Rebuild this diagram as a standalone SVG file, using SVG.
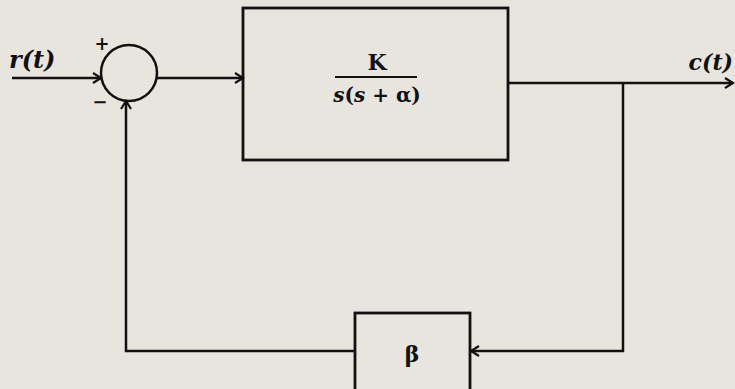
<svg xmlns="http://www.w3.org/2000/svg" width="735" height="389" viewBox="0 0 735 389">
<defs>
<style>
.ln{fill:none;stroke:#111;stroke-width:2.5}
.bx{fill:none;stroke:#111;stroke-width:2.8}
.lbl{font-family:"DejaVu Serif","Liberation Serif",serif;font-weight:bold;fill:#111}
</style>
<marker id="arr" markerUnits="userSpaceOnUse" markerWidth="14" markerHeight="14" refX="11" refY="6" orient="auto">
<path d="M3,1 L11,6 L3,11" fill="none" stroke="#111" stroke-width="2.2"/>
</marker>
</defs>
<rect x="0" y="0" width="735" height="389" fill="#e8e5de"/>
<g id="connectors">
<path class="ln" d="M12,78 H101" marker-end="url(#arr)"/>
<path class="ln" d="M157,78 H243" marker-end="url(#arr)"/>
<path class="ln" d="M508,83 H733" marker-end="url(#arr)"/>
<path class="ln" d="M623,83 V351 H471" marker-end="url(#arr)"/>
<path class="ln" d="M355,351 H126 V101" marker-end="url(#arr)"/>
</g>
<g id="sum">
<circle class="ln" cx="129" cy="73" r="28"/>
<text class="lbl" x="102" y="50" font-size="18" text-anchor="middle">+</text>
<text class="lbl" x="100" y="108" font-size="18" text-anchor="middle">−</text>
</g>
<g id="plant">
<rect class="bx" x="243" y="8" width="265" height="152"/>
<text class="lbl" x="377" y="70" font-size="22" text-anchor="middle">K</text>
<line x1="335" y1="77" x2="417" y2="77" stroke="#111" stroke-width="2.2"/>
<text class="lbl" x="377" y="102" font-size="20" text-anchor="middle"><tspan font-style="italic">s</tspan>(<tspan font-style="italic">s</tspan> + α)</text>
</g>
<g id="feedback">
<rect class="bx" x="355" y="313" width="115" height="80"/>
<text class="lbl" x="412" y="362" font-size="22" text-anchor="middle">β</text>
</g>
<g id="labels">
<text class="lbl" x="9" y="68" font-size="24" font-style="italic">r(t)</text>
<text class="lbl" x="733" y="70" font-size="22" font-style="italic" text-anchor="end">c(t)</text>
</g>
</svg>
